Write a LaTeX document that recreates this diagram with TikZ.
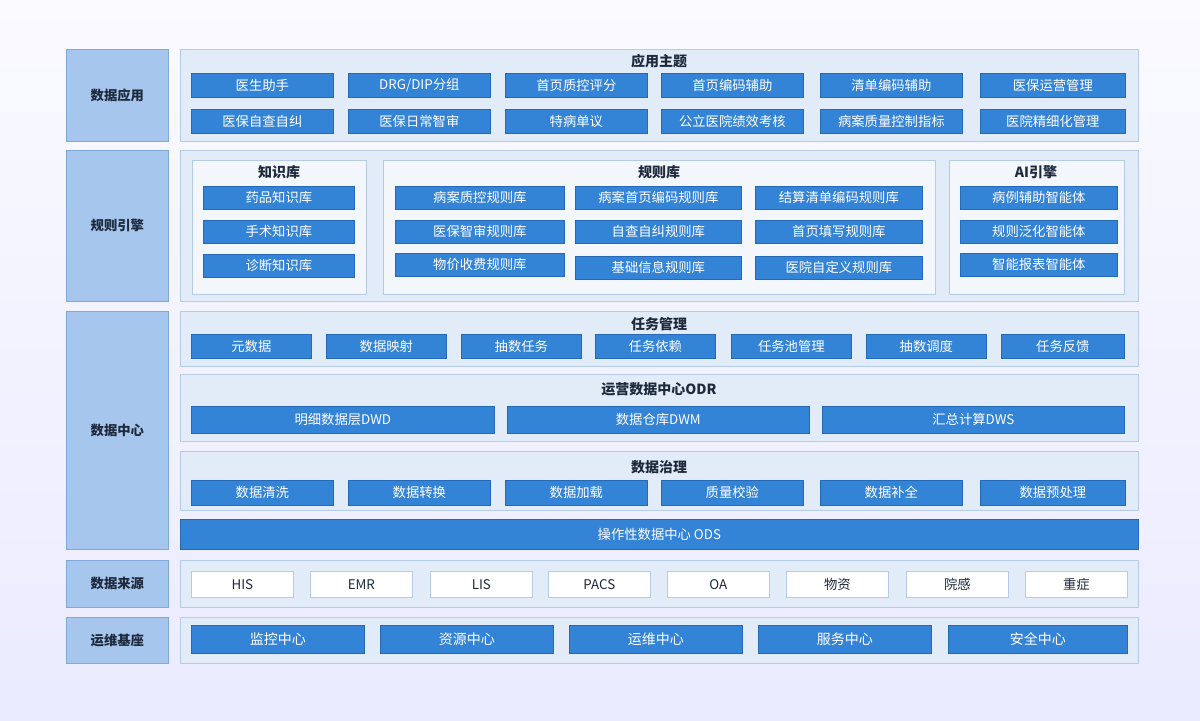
\documentclass[tikz,border=0pt]{standalone}
\usepackage{fontspec}
\setmainfont{Noto Sans CJK SC}
\begin{document}
\begin{tikzpicture}[x=0.75pt,y=-0.75pt,
 lab/.style={draw=lborder,fill=lfill,line width=0.6pt,font=\fontsize{10}{12}\selectfont\bfseries,text=titlec},
 pan/.style={draw=pborder,fill=pfill,line width=0.6pt},
 sub/.style={draw=pborder,fill=white!60!pfill,line width=0.5pt},
 bb/.style={draw=bborder,fill=bfill,line width=0.5pt,text=white,font=\fontsize{10}{12}\selectfont},
 wb/.style={draw=pborder,fill=white,line width=0.5pt,text=titlec,font=\fontsize{10}{12}\selectfont},
 ttl/.style={text=titlec,font=\fontsize{10.5}{12}\selectfont\bfseries}]
\definecolor{lfill}{HTML}{A6C6EE}\definecolor{lborder}{HTML}{7FA7DA}
\definecolor{pfill}{HTML}{E2ECF8}\definecolor{pborder}{HTML}{B5CBE6}
\definecolor{bfill}{HTML}{3383D6}\definecolor{bborder}{HTML}{2468B8}
\definecolor{titlec}{HTML}{1E2A3C}
\useasboundingbox (0,0) rectangle (1200,721);
\fill[top color=white!90!blue!20, bottom color=blue!8] (0,0) rectangle (1200,721);
% left labels
\foreach \n/\a/\b/\t in {l1/49/141/数据应用,l2/150/301/规则引擎,l3/311/549/数据中心,l4/560/607/数据来源,l5/617/663/运维基座}
 \node[lab,minimum width=102*0.75pt,minimum height={(\b-\a)*0.75pt},anchor=north west] (\n) at (66,\a) {\t};
% panels
\foreach \n/\a/\b in {p1/49/141,p2/150/301,p3/311/366,p4/374/441,p5/451/510,p7/560/607,p8/617/663}
 \node[pan,minimum width=958*0.75pt,minimum height={(\b-\a)*0.75pt},anchor=north west,inner sep=0] (\n) at (180,\a) {};
\node[ttl] (t1) at (659,61) {应用主题};
\node[ttl] (t3) at (659,324) {任务管理};
\node[ttl] (t4) at (659,389) {运营数据中心ODR};
\node[ttl] (t5) at (659,467) {数据治理};
% boxes macro
\newcommand\bx[6]{\node[#1,minimum width={(#3-#2)*0.75pt},minimum height={(#5-#4)*0.75pt},anchor=north west,inner sep=0] (#6) at (#2,#4) {};}
% panel1
\foreach \x/\y/\t [count=\i] in {191/333/医生助手,348/490/{DRG/DIP分组},505/647/首页质控评分,661/803/首页编码辅助,820/962/清单编码辅助,980/1125/医保运营管理}
 {\bx{bb}{\x}{\y}{73}{97}{a\i}\node[text=white,font=\fontsize{10}{12}\selectfont] (at\i) at (a\i) {\t};}
\foreach \x/\y/\t [count=\i] in {191/333/医保自查自纠,348/490/医保日常智审,505/647/特病单议,661/803/公立医院绩效考核,820/962/病案质量控制指标,980/1125/医院精细化管理}
 {\bx{bb}{\x}{\y}{109}{133}{b\i}\node[text=white,font=\fontsize{10}{12}\selectfont] (bt\i) at (b\i) {\t};}
% panel2 subpanels
\bx{sub}{192}{366}{160}{294}{s1}\bx{sub}{383}{935}{160}{294}{s2}\bx{sub}{949}{1124}{160}{294}{s3}
\node[ttl] (ts1) at (279,172) {知识库};
\node[ttl] (ts2) at (659,172) {规则库};
\node[ttl] (ts3) at (1036,172) {AI引擎};
\foreach \a/\b/\t [count=\i] in {186/209/药品知识库,220/243/手术知识库,254/277/诊断知识库}
 {\bx{bb}{203}{354}{\a}{\b}{k\i}\node[text=white,font=\fontsize{10}{12}\selectfont] (kt\i) at (k\i) {\t};}
\foreach \a/\b/\t [count=\i] in {186/209/病例辅助智能体,220/243/规则泛化智能体,253/276/智能报表智能体}
 {\bx{bb}{960}{1117}{\a}{\b}{ai\i}\node[text=white,font=\fontsize{10}{12}\selectfont] (ait\i) at (ai\i) {\t};}
\foreach \x/\y/\a/\b/\t [count=\i] in {395/564/186/209/病案质控规则库,575/741/186/209/病案首页编码规则库,755/922/186/209/结算清单编码规则库,395/564/220/243/医保智审规则库,575/741/220/243/自查自纠规则库,755/922/220/243/首页填写规则库,395/564/253/276/物价收费规则库,575/741/256/279/基础信息规则库,755/922/256/279/医院自定义规则库}
 {\bx{bb}{\x}{\y}{\a}{\b}{r\i}\node[text=white,font=\fontsize{10}{12}\selectfont] (rt\i) at (r\i) {\t};}
% panel3
\foreach \x/\y/\t [count=\i] in {191/311/元数据,326/446/数据映射,461/581/抽数任务,595/715/任务依赖,731/851/任务池管理,866/986/抽数调度,1001/1124/任务反馈}
 {\bx{bb}{\x}{\y}{334}{358}{m\i}\node[text=white,font=\fontsize{10}{12}\selectfont] (mt\i) at (m\i) {\t};}
\foreach \x/\y/\t [count=\i] in {191/494/明细数据层DWD,507/809/数据仓库DWM,822/1124/汇总计算DWS}
 {\bx{bb}{\x}{\y}{406}{433}{o\i}\node[text=white,font=\fontsize{10}{12}\selectfont] (ot\i) at (o\i) {\t};}
\foreach \x/\y/\t [count=\i] in {191/333/数据清洗,348/490/数据转换,505/647/数据加载,661/803/质量校验,820/962/数据补全,980/1125/数据预处理}
 {\bx{bb}{\x}{\y}{480}{505}{g\i}\node[text=white,font=\fontsize{10}{12}\selectfont] (gt\i) at (g\i) {\t};}
\bx{bb}{180}{1138}{519}{549}{ods}\node[text=white,font=\fontsize{10}{12}\selectfont] (odst) at (ods) {操作性数据中心 ODS};
\foreach \x/\y/\t [count=\i] in {191/293/HIS,310/412/EMR,430/532/LIS,548/650/PACS,667/769/OA,786/888/物资,906/1008/院感,1025/1127/重症}
 {\bx{wb}{\x}{\y}{571}{597}{d\i}\node[text=titlec,font=\fontsize{10}{12}\selectfont] (dt\i) at (d\i) {\t};}
\foreach \x/\y/\t [count=\i] in {191/364/监控中心,380/553/资源中心,569/742/运维中心,758/931/服务中心,948/1127/安全中心}
 {\bx{bb}{\x}{\y}{625}{653}{y\i}\node[text=white,font=\fontsize{10.5}{12}\selectfont] (yt\i) at (y\i) {\t};}
\end{tikzpicture}
\end{document}
